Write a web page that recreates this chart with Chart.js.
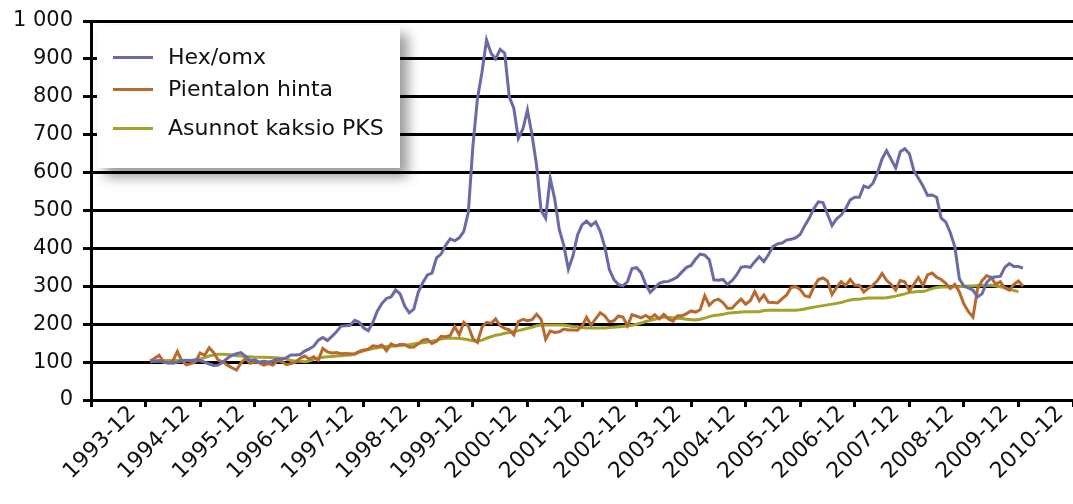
<!DOCTYPE html>
<html>
<head>
<meta charset="utf-8">
<script src="https://cdn.jsdelivr.net/npm/chart.js@4.4.1/dist/chart.umd.min.js"></script>
<style>
	html, body { margin: 0; padding: 0; background: #fff; overflow: hidden; }
	#wrap { position: relative; width: 1073px; height: 504px; }
	#legend {
		position: absolute; left: 97px; top: 25px; width: 303px; height: 143px;
		background: #fff; box-shadow: 8px 9px 12px rgba(0, 0, 0, 0.4);
		font: 22px "DejaVu Sans", sans-serif; color: #111;
	}
	.row { position: absolute; left: 0; width: 100%; height: 0; }
	.swatch { position: absolute; left: 16px; top: -1.5px; width: 40px; height: 3px; }
	.txt { position: absolute; left: 71px; top: -13px; line-height: 26px; white-space: nowrap; }
</style>
</head>
<body>
<div id="wrap">
	<canvas id="lineChart" width="1073" height="504"></canvas>
	<div id="legend"></div>
</div>
<script>
// months 1992-12 .. 2010-12, label shown every December
const months = [];
for (let k = 0; k <= 216; k++) {
	const n = 1992 * 12 + 11 + k;
	const y = Math.floor(n / 12), m = n % 12 + 1;
	months.push(y + '-' + String(m).padStart(2, '0'));
}
const firstMonth = '1994-01';

// Hex/omx, monthly from 1994-01
const hexOmx = [
	100, 102, 104, 100, 98, 97, 100, 104, 105, 104, 106, 104,
	100, 95, 91, 92, 100, 110, 118, 122, 125, 115, 104, 106,
	100, 102, 100, 103, 108, 108, 112, 119, 119, 120, 129, 135,
	142, 158, 165, 157, 168, 180, 195, 196, 197, 210, 205, 190,
	183, 205, 235, 255, 268, 272, 290, 280, 248, 230, 240, 285,
	310, 330, 335, 375, 385, 408, 425, 420, 428, 445, 495, 670,
	795, 865, 950, 915, 900, 925, 915, 800, 770, 690, 715, 765,
	700, 620, 500, 480, 585, 530, 450, 408, 345, 380, 435, 462,
	472, 460, 470, 445, 405, 345, 318, 305, 301, 312, 347, 349,
	336, 305, 284, 296, 308, 312, 313, 318, 325, 338, 350, 355,
	372, 385, 382, 370, 317, 316, 318, 305, 315, 330, 350, 352,
	350, 365, 378, 365, 383, 405, 412, 414, 422, 424, 428, 437,
	460, 480, 505, 523, 521, 490, 460, 478, 488, 505, 528, 535,
	535, 565, 560, 572, 600, 636, 658, 635, 612, 655, 663, 650,
	605, 585, 565, 540, 541, 535, 480, 470, 442, 405, 320, 300,
	296, 290, 272, 280, 310, 322, 325, 326, 350, 360, 352, 352,
	348
];

// Pientalon hinta, monthly from 1994-01
const pientalo = [
	103, 110, 118, 100, 97, 103, 128, 103, 93, 96, 101, 124,
	118, 138, 125, 105, 101, 92, 85, 79, 98, 110, 97, 100,
	98, 92, 96, 92, 104, 101, 93, 96, 100, 110, 116, 108,
	114, 105, 136, 127, 124, 125, 122, 123, 122, 121, 128, 132,
	134, 143, 141, 145, 130, 148, 142, 147, 146, 139, 140, 148,
	158, 160, 149, 155, 168, 167, 170, 194, 172, 205, 195, 162,
	152, 192, 205, 202, 214, 196, 189, 185, 172, 207, 213, 209,
	212, 226, 213, 160, 182, 178, 180, 187, 185, 185, 184, 195,
	218, 198, 214, 230, 222, 206, 209, 222, 219, 196, 225, 221,
	217, 223, 216, 225, 214, 226, 214, 208, 222, 222, 228, 235,
	232, 238, 275, 250, 262, 266, 257, 242, 242, 255, 266, 253,
	262, 286, 262, 277, 258, 257, 256, 267, 277, 297, 299, 292,
	275, 272, 298, 318, 322, 314, 278, 297, 312, 302, 318, 303,
	303, 285, 295, 303, 315, 334, 316, 305, 290, 315, 312, 288,
	305, 323, 302, 330, 335, 324, 318, 308, 294, 305, 285, 253,
	233, 219, 293, 315, 328, 324, 305, 312, 296, 290, 305, 314,
	300
];

// Asunnot kaksio PKS, monthly from 1994-01
const kaksio = [
	103, 103, 103, 104, 104, 104, 104, 104, 104, 104, 105, 108,
	112, 116, 119, 121, 121, 120, 119, 117, 116, 114, 114, 113,
	113, 113, 112, 112, 111, 110, 108, 104, 103, 102, 101, 103,
	107, 111, 113, 114, 115, 116, 117, 118, 119, 122, 126, 130,
	133, 136, 138, 140, 141, 142, 143, 144, 145, 146, 148, 150,
	151, 153, 155, 158, 161, 163, 163, 163, 162, 161, 159, 156,
	155, 158, 163, 167, 171, 173, 176, 178, 181, 183, 186, 189,
	192, 196, 198, 198, 198, 198, 198, 198, 196, 194, 193, 191,
	190, 190, 190, 190, 190, 191, 192, 193, 194, 195, 197, 200,
	203, 207, 210, 213, 216, 219, 218, 217, 216, 215, 213, 212,
	211, 213, 216, 220, 223, 224, 226, 229, 230, 231, 232, 233,
	233, 233, 233, 236, 237, 237, 237, 237, 237, 237, 237, 238,
	240, 243, 245, 247, 249, 251, 253, 255, 257, 261, 264, 266,
	266, 268, 269, 269, 269, 269, 270, 272, 274, 277, 280, 284,
	285, 286, 286, 290, 294, 297, 298, 298, 298, 299, 299, 300,
	301, 301, 302, 303, 303, 303, 301, 299, 296, 292, 289, 286
];

const yTicks = [0, 100, 200, 300, 400, 500, 600, 700, 800, 900, 1000];

const seriesNames = ['Hex/omx', 'Pientalon hinta', 'Asunnot kaksio PKS'];
const seriesColors = ['#6a6aa8', '#b8692e', '#a3a22b'];

function place(values) {
	const start = months.indexOf(firstMonth);
	return months.map((m, i) => {
		const v = values[i - start];
		return v === undefined ? null : v;
	});
}

const lineCtx = document.getElementById('lineChart').getContext('2d');
const chart = new Chart(lineCtx, {
	type: 'line',
	data: {
		labels: months,
		datasets: [hexOmx, pientalo, kaksio].map((vals, k) => ({
			label: seriesNames[k],
			data: place(vals),
			borderColor: seriesColors[k],
			borderWidth: 3,
			pointRadius: 0,
			fill: false,
			tension: 0,
			spanGaps: false
		}))
	},
	options: {
		responsive: false,
		animation: false,
		devicePixelRatio: 1,
		layout: { padding: { top: 21, right: 0, bottom: 0, left: 0 } },
		plugins: {
			legend: { display: false },
			tooltip: { enabled: false }
		},
		scales: {
			x: {
				type: 'category',
				offset: false,
				border: { color: '#000', width: 3 },
				grid: {
					drawOnChartArea: false,
					tickLength: 7,
					lineWidth: 3,
					color: (c) => (c.index % 12 === 0 ? '#000' : 'rgba(0,0,0,0)')
				},
				ticks: {
					autoSkip: false,
					maxRotation: 45,
					minRotation: 45,
					padding: -6,
					labelOffset: -13,
					color: '#111',
					font: { family: 'DejaVu Sans', size: 22 },
					callback: (v, i) => (i % 12 === 0 && i > 0 ? months[i] : '')
				},
				afterFit: (s) => { s.height = 104; s.paddingLeft = 0; s.paddingRight = 0; }
			},
			y: {
				min: 0,
				max: 1000,
				border: { color: '#000', width: 3 },
				grid: { color: '#000', lineWidth: 3, tickLength: 8 },
				afterBuildTicks: (s) => { s.ticks = yTicks.map(v => ({ value: v })); },
				ticks: {
					padding: 10,
					color: '#111',
					font: { family: 'DejaVu Sans', size: 21 },
					callback: (v) => String(v).replace(/\B(?=(\d{3})+(?!\d))/g, ' ')
				},
				afterFit: (s) => { s.width = 91; s.paddingTop = 0; s.paddingBottom = 0; }
			}
		}
	}
});

// legend box drawn over the plot, from the chart's own datasets
const legend = document.getElementById('legend');
const rowY = [32, 64, 103];
chart.data.datasets.forEach((ds, k) => {
	const row = document.createElement('div');
	row.className = 'row';
	row.style.top = rowY[k] + 'px';
	row.innerHTML = '<span class="swatch" style="background:' + ds.borderColor + '"></span>' +
		'<span class="txt">' + ds.label + '</span>';
	legend.appendChild(row);
});
</script>
</body>
</html>
